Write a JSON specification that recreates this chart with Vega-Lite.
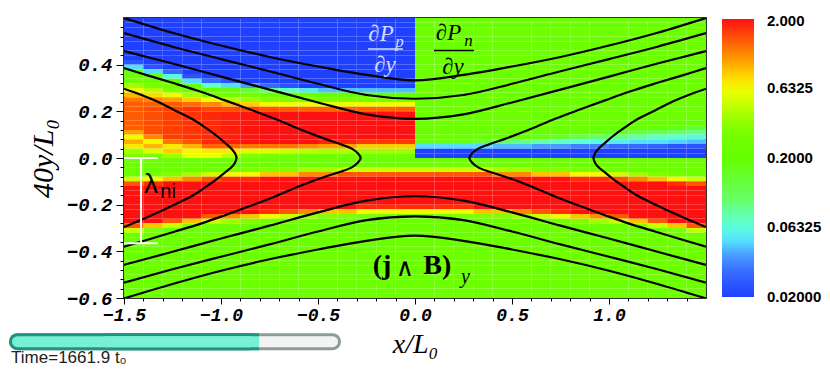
{
"$schema":"https://vega.github.io/schema/vega-lite/v6.json",
"width":582,"height":280,
"autosize":{"type":"none"},
"padding":{"left":124,"top":18,"right":124,"bottom":82},
"background":"#ffffff",
"config":{"view":{"stroke":"#333333","strokeWidth":2},"axis":{"grid":false,"domain":false,"tickColor":"#000000","labelColor":"#000000","titleColor":"#000000"},"legend":{"padding":0}},
"datasets":{
"field":[
{"x":-1.45,"y":[0.59,0.57,0.55,0.53,0.51,0.49,0.47,0.45,0.43,0.41,0.39,0.37,0.35,0.33,0.31,0.29,0.27,0.25,0.23,0.21,0.19,0.17,0.15,0.13,0.11,0.09,0.07,0.05,0.03,0.01,-0.01,-0.03,-0.05,-0.07,-0.09,-0.11,-0.13,-0.15,-0.17,-0.19,-0.21,-0.23,-0.25,-0.27,-0.29,-0.31,-0.33,-0.35,-0.37,-0.39,-0.41,-0.43,-0.45,-0.47,-0.49,-0.51,-0.53,-0.55,-0.57,-0.59],
"v":[0.02,0.02,0.02,0.02,0.02,0.02,0.02,0.02,0.02,0.025,0.05,0.15,0.25,0.27,0.4,0.6,0.9,1.2,1.35,1.35,1.35,1.35,1.35,1.35,1.0,0.65,0.95,0.7,0.4,0.3,
0.25,0.25,0.25,0.26,0.5,1.4,2,2,2,2,2,2,2,2,1.4,0.5,0.26,0.25,0.25,0.25,0.25,0.25,0.25,0.25,0.25,0.25,0.25,0.25,0.25,0.25]},
{"x":-1.35,"y":[0.59,0.57,0.55,0.53,0.51,0.49,0.47,0.45,0.43,0.41,0.39,0.37,0.35,0.33,0.31,0.29,0.27,0.25,0.23,0.21,0.19,0.17,0.15,0.13,0.11,0.09,0.07,0.05,0.03,0.01,-0.01,-0.03,-0.05,-0.07,-0.09,-0.11,-0.13,-0.15,-0.17,-0.19,-0.21,-0.23,-0.25,-0.27,-0.29,-0.31,-0.33,-0.35,-0.37,-0.39,-0.41,-0.43,-0.45,-0.47,-0.49,-0.51,-0.53,-0.55,-0.57,-0.59],
"v":[0.02,0.02,0.02,0.02,0.02,0.02,0.02,0.02,0.02,0.02,0.025,0.05,0.16,0.25,0.3,0.45,0.75,1.1,1.35,1.45,1.45,1.45,1.45,1.45,1.45,1.1,0.65,0.9,0.55,0.3,
0.25,0.25,0.25,0.29,0.65,1.7,2,2,2,2,2,2,2,2,0.85,0.33,0.25,0.25,0.25,0.25,0.25,0.25,0.25,0.25,0.25,0.25,0.25,0.25,0.25,0.25]},
{"x":-1.25,"y":[0.59,0.57,0.55,0.53,0.51,0.49,0.47,0.45,0.43,0.41,0.39,0.37,0.35,0.33,0.31,0.29,0.27,0.25,0.23,0.21,0.19,0.17,0.15,0.13,0.11,0.09,0.07,0.05,0.03,0.01,-0.01,-0.03,-0.05,-0.07,-0.09,-0.11,-0.13,-0.15,-0.17,-0.19,-0.21,-0.23,-0.25,-0.27,-0.29,-0.31,-0.33,-0.35,-0.37,-0.39,-0.41,-0.43,-0.45,-0.47,-0.49,-0.51,-0.53,-0.55,-0.57,-0.59],
"v":[0.02,0.02,0.02,0.02,0.02,0.02,0.02,0.02,0.02,0.02,0.02,0.03,0.06,0.18,0.26,0.33,0.6,1.0,1.35,1.55,1.55,1.55,1.55,1.55,1.55,1.55,1.2,0.7,0.8,0.4,
0.25,0.25,0.25,0.33,0.85,2,2,2,2,2,2,2,2,1.4,0.5,0.26,0.25,0.25,0.25,0.25,0.25,0.25,0.25,0.25,0.25,0.25,0.25,0.25,0.25,0.25]},
{"x":-1.15,"y":[0.59,0.57,0.55,0.53,0.51,0.49,0.47,0.45,0.43,0.41,0.39,0.37,0.35,0.33,0.31,0.29,0.27,0.25,0.23,0.21,0.19,0.17,0.15,0.13,0.11,0.09,0.07,0.05,0.03,0.01,-0.01,-0.03,-0.05,-0.07,-0.09,-0.11,-0.13,-0.15,-0.17,-0.19,-0.21,-0.23,-0.25,-0.27,-0.29,-0.31,-0.33,-0.35,-0.37,-0.39,-0.41,-0.43,-0.45,-0.47,-0.49,-0.51,-0.53,-0.55,-0.57,-0.59],
"v":[0.02,0.02,0.02,0.02,0.02,0.02,0.02,0.02,0.02,0.02,0.02,0.02,0.025,0.05,0.17,0.26,0.4,0.8,1.25,1.65,1.65,1.65,1.65,1.65,1.65,1.65,1.4,0.9,0.65,0.6,
0.25,0.25,0.25,0.4,1.1,2,2,2,2,2,2,2,2,0.85,0.33,0.25,0.25,0.25,0.25,0.25,0.25,0.25,0.25,0.25,0.25,0.25,0.25,0.25,0.25,0.25]},
{"x":-1.05,"y":[0.59,0.57,0.55,0.53,0.51,0.49,0.47,0.45,0.43,0.41,0.39,0.37,0.35,0.33,0.31,0.29,0.27,0.25,0.23,0.21,0.19,0.17,0.15,0.13,0.11,0.09,0.07,0.05,0.03,0.01,-0.01,-0.03,-0.05,-0.07,-0.09,-0.11,-0.13,-0.15,-0.17,-0.19,-0.21,-0.23,-0.25,-0.27,-0.29,-0.31,-0.33,-0.35,-0.37,-0.39,-0.41,-0.43,-0.45,-0.47,-0.49,-0.51,-0.53,-0.55,-0.57,-0.59],
"v":[0.02,0.02,0.02,0.02,0.02,0.02,0.02,0.02,0.02,0.02,0.02,0.02,0.02,0.03,0.07,0.22,0.3,0.6,1.1,1.5,1.75,1.75,1.75,1.75,1.75,1.75,1.75,1.3,0.7,0.6,
0.25,0.25,0.26,0.5,1.4,2,2,2,2,2,2,2,1.4,0.5,0.26,0.25,0.25,0.25,0.25,0.25,0.25,0.25,0.25,0.25,0.25,0.25,0.25,0.25,0.25,0.25]},
{"x":-0.95,"y":[0.59,0.57,0.55,0.53,0.51,0.49,0.47,0.45,0.43,0.41,0.39,0.37,0.35,0.33,0.31,0.29,0.27,0.25,0.23,0.21,0.19,0.17,0.15,0.13,0.11,0.09,0.07,0.05,0.03,0.01,-0.01,-0.03,-0.05,-0.07,-0.09,-0.11,-0.13,-0.15,-0.17,-0.19,-0.21,-0.23,-0.25,-0.27,-0.29,-0.31,-0.33,-0.35,-0.37,-0.39,-0.41,-0.43,-0.45,-0.47,-0.49,-0.51,-0.53,-0.55,-0.57,-0.59],
"v":[0.02,0.02,0.02,0.02,0.02,0.02,0.02,0.02,0.02,0.02,0.02,0.02,0.02,0.025,0.05,0.18,0.27,0.45,0.9,1.45,1.85,1.85,1.85,1.85,1.85,1.85,1.85,1.3,0.7,0.45,
0.25,0.25,0.29,0.65,1.7,2,2,2,2,2,2,2,1.1,0.4,0.25,0.25,0.25,0.25,0.25,0.25,0.25,0.25,0.25,0.25,0.25,0.25,0.25,0.25,0.25,0.25]},
{"x":-0.85,"y":[0.59,0.57,0.55,0.53,0.51,0.49,0.47,0.45,0.43,0.41,0.39,0.37,0.35,0.33,0.31,0.29,0.27,0.25,0.23,0.21,0.19,0.17,0.15,0.13,0.11,0.09,0.07,0.05,0.03,0.01,-0.01,-0.03,-0.05,-0.07,-0.09,-0.11,-0.13,-0.15,-0.17,-0.19,-0.21,-0.23,-0.25,-0.27,-0.29,-0.31,-0.33,-0.35,-0.37,-0.39,-0.41,-0.43,-0.45,-0.47,-0.49,-0.51,-0.53,-0.55,-0.57,-0.59],
"v":[0.02,0.02,0.02,0.02,0.02,0.02,0.02,0.02,0.02,0.02,0.02,0.02,0.02,0.02,0.04,0.13,0.26,0.38,0.8,1.5,1.95,1.95,1.95,1.95,1.95,1.95,1.95,1.2,0.55,0.33,
0.25,0.25,0.29,0.65,1.7,2,2,2,2,2,2,2,0.85,0.33,0.25,0.25,0.25,0.25,0.25,0.25,0.25,0.25,0.25,0.25,0.25,0.25,0.25,0.25,0.25,0.25]},
{"x":-0.75,"y":[0.59,0.57,0.55,0.53,0.51,0.49,0.47,0.45,0.43,0.41,0.39,0.37,0.35,0.33,0.31,0.29,0.27,0.25,0.23,0.21,0.19,0.17,0.15,0.13,0.11,0.09,0.07,0.05,0.03,0.01,-0.01,-0.03,-0.05,-0.07,-0.09,-0.11,-0.13,-0.15,-0.17,-0.19,-0.21,-0.23,-0.25,-0.27,-0.29,-0.31,-0.33,-0.35,-0.37,-0.39,-0.41,-0.43,-0.45,-0.47,-0.49,-0.51,-0.53,-0.55,-0.57,-0.59],
"v":[0.02,0.02,0.02,0.02,0.02,0.02,0.02,0.02,0.02,0.02,0.02,0.02,0.02,0.02,0.03,0.09,0.24,0.33,0.65,1.4,2,2,2,2,2,2,2,1.2,0.55,0.3,
0.25,0.25,0.33,0.85,2,2,2,2,2,2,2,1.7,0.65,0.29,0.25,0.25,0.25,0.25,0.25,0.25,0.25,0.25,0.25,0.25,0.25,0.25,0.25,0.25,0.25,0.25]},
{"x":-0.65,"y":[0.59,0.57,0.55,0.53,0.51,0.49,0.47,0.45,0.43,0.41,0.39,0.37,0.35,0.33,0.31,0.29,0.27,0.25,0.23,0.21,0.19,0.17,0.15,0.13,0.11,0.09,0.07,0.05,0.03,0.01,-0.01,-0.03,-0.05,-0.07,-0.09,-0.11,-0.13,-0.15,-0.17,-0.19,-0.21,-0.23,-0.25,-0.27,-0.29,-0.31,-0.33,-0.35,-0.37,-0.39,-0.41,-0.43,-0.45,-0.47,-0.49,-0.51,-0.53,-0.55,-0.57,-0.59],
"v":[0.02,0.02,0.02,0.02,0.02,0.02,0.02,0.02,0.02,0.02,0.02,0.02,0.02,0.02,0.025,0.07,0.23,0.32,0.62,1.35,2,2,2,2,2,2,2,1.2,0.5,0.28,
0.25,0.25,0.33,0.85,2,2,2,2,2,2,2,1.4,0.5,0.26,0.25,0.25,0.25,0.25,0.25,0.25,0.25,0.25,0.25,0.25,0.25,0.25,0.25,0.25,0.25,0.25]},
{"x":-0.55,"y":[0.59,0.57,0.55,0.53,0.51,0.49,0.47,0.45,0.43,0.41,0.39,0.37,0.35,0.33,0.31,0.29,0.27,0.25,0.23,0.21,0.19,0.17,0.15,0.13,0.11,0.09,0.07,0.05,0.03,0.01,-0.01,-0.03,-0.05,-0.07,-0.09,-0.11,-0.13,-0.15,-0.17,-0.19,-0.21,-0.23,-0.25,-0.27,-0.29,-0.31,-0.33,-0.35,-0.37,-0.39,-0.41,-0.43,-0.45,-0.47,-0.49,-0.51,-0.53,-0.55,-0.57,-0.59],
"v":[0.02,0.02,0.02,0.02,0.02,0.02,0.02,0.02,0.02,0.02,0.02,0.02,0.02,0.02,0.02,0.055,0.22,0.3,0.6,1.3,2,2,2,2,2,2,2,1.1,0.45,0.27,
0.25,0.25,0.4,1.1,2,2,2,2,2,2,2,1.1,0.4,0.25,0.25,0.25,0.25,0.25,0.25,0.25,0.25,0.25,0.25,0.25,0.25,0.25,0.25,0.25,0.25,0.25]},
{"x":-0.45,"y":[0.59,0.57,0.55,0.53,0.51,0.49,0.47,0.45,0.43,0.41,0.39,0.37,0.35,0.33,0.31,0.29,0.27,0.25,0.23,0.21,0.19,0.17,0.15,0.13,0.11,0.09,0.07,0.05,0.03,0.01,-0.01,-0.03,-0.05,-0.07,-0.09,-0.11,-0.13,-0.15,-0.17,-0.19,-0.21,-0.23,-0.25,-0.27,-0.29,-0.31,-0.33,-0.35,-0.37,-0.39,-0.41,-0.43,-0.45,-0.47,-0.49,-0.51,-0.53,-0.55,-0.57,-0.59],
"v":[0.02,0.02,0.02,0.02,0.02,0.02,0.02,0.02,0.02,0.02,0.02,0.02,0.02,0.02,0.02,0.045,0.2,0.3,0.6,1.3,2,2,2,2,2,2,1.8,1.0,0.42,0.27,
0.25,0.25,0.4,1.1,2,2,2,2,2,2,2,0.85,0.33,0.25,0.25,0.25,0.25,0.25,0.25,0.25,0.25,0.25,0.25,0.25,0.25,0.25,0.25,0.25,0.25,0.25]},
{"x":-0.35,"y":[0.59,0.57,0.55,0.53,0.51,0.49,0.47,0.45,0.43,0.41,0.39,0.37,0.35,0.33,0.31,0.29,0.27,0.25,0.23,0.21,0.19,0.17,0.15,0.13,0.11,0.09,0.07,0.05,0.03,0.01,-0.01,-0.03,-0.05,-0.07,-0.09,-0.11,-0.13,-0.15,-0.17,-0.19,-0.21,-0.23,-0.25,-0.27,-0.29,-0.31,-0.33,-0.35,-0.37,-0.39,-0.41,-0.43,-0.45,-0.47,-0.49,-0.51,-0.53,-0.55,-0.57,-0.59],
"v":[0.02,0.02,0.02,0.02,0.02,0.02,0.02,0.02,0.02,0.02,0.02,0.02,0.02,0.02,0.02,0.045,0.2,0.3,0.6,1.3,2,2,2,2,2,2,1.8,1.0,0.42,0.27,
0.25,0.26,0.5,1.4,2,2,2,2,2,2,2,0.85,0.33,0.25,0.25,0.25,0.25,0.25,0.25,0.25,0.25,0.25,0.25,0.25,0.25,0.25,0.25,0.25,0.25,0.25]},
{"x":-0.25,"y":[0.59,0.57,0.55,0.53,0.51,0.49,0.47,0.45,0.43,0.41,0.39,0.37,0.35,0.33,0.31,0.29,0.27,0.25,0.23,0.21,0.19,0.17,0.15,0.13,0.11,0.09,0.07,0.05,0.03,0.01,-0.01,-0.03,-0.05,-0.07,-0.09,-0.11,-0.13,-0.15,-0.17,-0.19,-0.21,-0.23,-0.25,-0.27,-0.29,-0.31,-0.33,-0.35,-0.37,-0.39,-0.41,-0.43,-0.45,-0.47,-0.49,-0.51,-0.53,-0.55,-0.57,-0.59],
"v":[0.02,0.02,0.02,0.02,0.02,0.02,0.02,0.02,0.02,0.02,0.02,0.02,0.02,0.02,0.02,0.045,0.2,0.3,0.6,1.3,2,2,2,2,2,2,1.6,0.8,0.4,0.27,
0.25,0.26,0.5,1.4,2,2,2,2,2,2,1.7,0.65,0.29,0.25,0.25,0.25,0.25,0.25,0.25,0.25,0.25,0.25,0.25,0.25,0.25,0.25,0.25,0.25,0.25,0.25]},
{"x":-0.15,"y":[0.59,0.57,0.55,0.53,0.51,0.49,0.47,0.45,0.43,0.41,0.39,0.37,0.35,0.33,0.31,0.29,0.27,0.25,0.23,0.21,0.19,0.17,0.15,0.13,0.11,0.09,0.07,0.05,0.03,0.01,-0.01,-0.03,-0.05,-0.07,-0.09,-0.11,-0.13,-0.15,-0.17,-0.19,-0.21,-0.23,-0.25,-0.27,-0.29,-0.31,-0.33,-0.35,-0.37,-0.39,-0.41,-0.43,-0.45,-0.47,-0.49,-0.51,-0.53,-0.55,-0.57,-0.59],
"v":[0.02,0.02,0.02,0.02,0.02,0.02,0.02,0.02,0.02,0.02,0.02,0.02,0.02,0.02,0.02,0.045,0.2,0.3,0.6,1.3,2,2,2,2,2,2,1.6,0.8,0.4,0.27,
0.25,0.26,0.5,1.4,2,2,2,2,2,2,1.7,0.65,0.29,0.25,0.25,0.25,0.25,0.25,0.25,0.25,0.25,0.25,0.25,0.25,0.25,0.25,0.25,0.25,0.25,0.25]},
{"x":-0.05,"y":[0.59,0.57,0.55,0.53,0.51,0.49,0.47,0.45,0.43,0.41,0.39,0.37,0.35,0.33,0.31,0.29,0.27,0.25,0.23,0.21,0.19,0.17,0.15,0.13,0.11,0.09,0.07,0.05,0.03,0.01,-0.01,-0.03,-0.05,-0.07,-0.09,-0.11,-0.13,-0.15,-0.17,-0.19,-0.21,-0.23,-0.25,-0.27,-0.29,-0.31,-0.33,-0.35,-0.37,-0.39,-0.41,-0.43,-0.45,-0.47,-0.49,-0.51,-0.53,-0.55,-0.57,-0.59],
"v":[0.02,0.02,0.02,0.02,0.02,0.02,0.02,0.02,0.02,0.02,0.02,0.02,0.02,0.02,0.02,0.045,0.2,0.3,0.6,1.3,2,2,2,2,2,2,1.6,0.8,0.4,0.27,
0.25,0.26,0.5,1.4,2,2,2,2,2,2,1.7,0.65,0.29,0.25,0.25,0.25,0.25,0.25,0.25,0.25,0.25,0.25,0.25,0.25,0.25,0.25,0.25,0.25,0.25,0.25]},
{"x":0.05,"y":[0.59,0.57,0.55,0.53,0.51,0.49,0.47,0.45,0.43,0.41,0.39,0.37,0.35,0.33,0.31,0.29,0.27,0.25,0.23,0.21,0.19,0.17,0.15,0.13,0.11,0.09,0.07,0.05,0.03,0.01,-0.01,-0.03,-0.05,-0.07,-0.09,-0.11,-0.13,-0.15,-0.17,-0.19,-0.21,-0.23,-0.25,-0.27,-0.29,-0.31,-0.33,-0.35,-0.37,-0.39,-0.41,-0.43,-0.45,-0.47,-0.49,-0.51,-0.53,-0.55,-0.57,-0.59],
"v":[0.25,0.25,0.25,0.25,0.25,0.25,0.25,0.25,0.25,0.25,0.25,0.25,0.25,0.25,0.25,0.25,0.25,0.25,0.25,0.25,0.25,0.25,0.25,0.25,0.25,0.25,0.15,0.05,0.02,0.02,
0.25,0.26,0.5,1.4,2,2,2,2,2,2,1.7,0.65,0.29,0.25,0.25,0.25,0.25,0.25,0.25,0.25,0.25,0.25,0.25,0.25,0.25,0.25,0.25,0.25,0.25,0.25]},
{"x":0.15,"y":[0.59,0.57,0.55,0.53,0.51,0.49,0.47,0.45,0.43,0.41,0.39,0.37,0.35,0.33,0.31,0.29,0.27,0.25,0.23,0.21,0.19,0.17,0.15,0.13,0.11,0.09,0.07,0.05,0.03,0.01,-0.01,-0.03,-0.05,-0.07,-0.09,-0.11,-0.13,-0.15,-0.17,-0.19,-0.21,-0.23,-0.25,-0.27,-0.29,-0.31,-0.33,-0.35,-0.37,-0.39,-0.41,-0.43,-0.45,-0.47,-0.49,-0.51,-0.53,-0.55,-0.57,-0.59],
"v":[0.25,0.25,0.25,0.25,0.25,0.25,0.25,0.25,0.25,0.25,0.25,0.25,0.25,0.25,0.25,0.25,0.25,0.25,0.25,0.25,0.25,0.25,0.25,0.25,0.25,0.25,0.15,0.05,0.02,0.02,
0.25,0.26,0.5,1.4,2,2,2,2,2,2,1.7,0.65,0.29,0.25,0.25,0.25,0.25,0.25,0.25,0.25,0.25,0.25,0.25,0.25,0.25,0.25,0.25,0.25,0.25,0.25]},
{"x":0.25,"y":[0.59,0.57,0.55,0.53,0.51,0.49,0.47,0.45,0.43,0.41,0.39,0.37,0.35,0.33,0.31,0.29,0.27,0.25,0.23,0.21,0.19,0.17,0.15,0.13,0.11,0.09,0.07,0.05,0.03,0.01,-0.01,-0.03,-0.05,-0.07,-0.09,-0.11,-0.13,-0.15,-0.17,-0.19,-0.21,-0.23,-0.25,-0.27,-0.29,-0.31,-0.33,-0.35,-0.37,-0.39,-0.41,-0.43,-0.45,-0.47,-0.49,-0.51,-0.53,-0.55,-0.57,-0.59],
"v":[0.25,0.25,0.25,0.25,0.25,0.25,0.25,0.25,0.25,0.25,0.25,0.25,0.25,0.25,0.25,0.25,0.25,0.25,0.25,0.25,0.25,0.25,0.25,0.25,0.25,0.25,0.15,0.05,0.02,0.02,
0.25,0.26,0.5,1.4,2,2,2,2,2,2,1.7,0.65,0.29,0.25,0.25,0.25,0.25,0.25,0.25,0.25,0.25,0.25,0.25,0.25,0.25,0.25,0.25,0.25,0.25,0.25]},
{"x":0.35,"y":[0.59,0.57,0.55,0.53,0.51,0.49,0.47,0.45,0.43,0.41,0.39,0.37,0.35,0.33,0.31,0.29,0.27,0.25,0.23,0.21,0.19,0.17,0.15,0.13,0.11,0.09,0.07,0.05,0.03,0.01,-0.01,-0.03,-0.05,-0.07,-0.09,-0.11,-0.13,-0.15,-0.17,-0.19,-0.21,-0.23,-0.25,-0.27,-0.29,-0.31,-0.33,-0.35,-0.37,-0.39,-0.41,-0.43,-0.45,-0.47,-0.49,-0.51,-0.53,-0.55,-0.57,-0.59],
"v":[0.25,0.25,0.25,0.25,0.25,0.25,0.25,0.25,0.25,0.25,0.25,0.25,0.25,0.25,0.25,0.25,0.25,0.25,0.25,0.25,0.25,0.25,0.25,0.25,0.25,0.22,0.12,0.05,0.02,0.02,
0.25,0.26,0.5,1.4,2,2,2,2,2,2,2,0.85,0.33,0.25,0.25,0.25,0.25,0.25,0.25,0.25,0.25,0.25,0.25,0.25,0.25,0.25,0.25,0.25,0.25,0.25]},
{"x":0.45,"y":[0.59,0.57,0.55,0.53,0.51,0.49,0.47,0.45,0.43,0.41,0.39,0.37,0.35,0.33,0.31,0.29,0.27,0.25,0.23,0.21,0.19,0.17,0.15,0.13,0.11,0.09,0.07,0.05,0.03,0.01,-0.01,-0.03,-0.05,-0.07,-0.09,-0.11,-0.13,-0.15,-0.17,-0.19,-0.21,-0.23,-0.25,-0.27,-0.29,-0.31,-0.33,-0.35,-0.37,-0.39,-0.41,-0.43,-0.45,-0.47,-0.49,-0.51,-0.53,-0.55,-0.57,-0.59],
"v":[0.25,0.25,0.25,0.25,0.25,0.25,0.25,0.25,0.25,0.25,0.25,0.25,0.25,0.25,0.25,0.25,0.25,0.25,0.25,0.25,0.25,0.25,0.25,0.25,0.25,0.2,0.1,0.045,0.02,0.02,
0.25,0.25,0.4,1.1,2,2,2,2,2,2,2,0.85,0.33,0.25,0.25,0.25,0.25,0.25,0.25,0.25,0.25,0.25,0.25,0.25,0.25,0.25,0.25,0.25,0.25,0.25]},
{"x":0.55,"y":[0.59,0.57,0.55,0.53,0.51,0.49,0.47,0.45,0.43,0.41,0.39,0.37,0.35,0.33,0.31,0.29,0.27,0.25,0.23,0.21,0.19,0.17,0.15,0.13,0.11,0.09,0.07,0.05,0.03,0.01,-0.01,-0.03,-0.05,-0.07,-0.09,-0.11,-0.13,-0.15,-0.17,-0.19,-0.21,-0.23,-0.25,-0.27,-0.29,-0.31,-0.33,-0.35,-0.37,-0.39,-0.41,-0.43,-0.45,-0.47,-0.49,-0.51,-0.53,-0.55,-0.57,-0.59],
"v":[0.25,0.25,0.25,0.25,0.25,0.25,0.25,0.25,0.25,0.25,0.25,0.25,0.25,0.25,0.25,0.25,0.25,0.25,0.25,0.25,0.25,0.25,0.25,0.25,0.25,0.18,0.09,0.045,0.02,0.02,
0.25,0.25,0.4,1.1,2,2,2,2,2,2,2,1.1,0.4,0.25,0.25,0.25,0.25,0.25,0.25,0.25,0.25,0.25,0.25,0.25,0.25,0.25,0.25,0.25,0.25,0.25]},
{"x":0.65,"y":[0.59,0.57,0.55,0.53,0.51,0.49,0.47,0.45,0.43,0.41,0.39,0.37,0.35,0.33,0.31,0.29,0.27,0.25,0.23,0.21,0.19,0.17,0.15,0.13,0.11,0.09,0.07,0.05,0.03,0.01,-0.01,-0.03,-0.05,-0.07,-0.09,-0.11,-0.13,-0.15,-0.17,-0.19,-0.21,-0.23,-0.25,-0.27,-0.29,-0.31,-0.33,-0.35,-0.37,-0.39,-0.41,-0.43,-0.45,-0.47,-0.49,-0.51,-0.53,-0.55,-0.57,-0.59],
"v":[0.25,0.25,0.25,0.25,0.25,0.25,0.25,0.25,0.25,0.25,0.25,0.25,0.25,0.25,0.25,0.25,0.25,0.25,0.25,0.25,0.25,0.25,0.25,0.25,0.22,0.15,0.08,0.04,0.02,0.02,
0.25,0.25,0.33,0.85,2,2,2,2,2,2,2,1.4,0.5,0.26,0.25,0.25,0.25,0.25,0.25,0.25,0.25,0.25,0.25,0.25,0.25,0.25,0.25,0.25,0.25,0.25]},
{"x":0.75,"y":[0.59,0.57,0.55,0.53,0.51,0.49,0.47,0.45,0.43,0.41,0.39,0.37,0.35,0.33,0.31,0.29,0.27,0.25,0.23,0.21,0.19,0.17,0.15,0.13,0.11,0.09,0.07,0.05,0.03,0.01,-0.01,-0.03,-0.05,-0.07,-0.09,-0.11,-0.13,-0.15,-0.17,-0.19,-0.21,-0.23,-0.25,-0.27,-0.29,-0.31,-0.33,-0.35,-0.37,-0.39,-0.41,-0.43,-0.45,-0.47,-0.49,-0.51,-0.53,-0.55,-0.57,-0.59],
"v":[0.25,0.25,0.25,0.25,0.25,0.25,0.25,0.25,0.25,0.25,0.25,0.25,0.25,0.25,0.25,0.25,0.25,0.25,0.25,0.25,0.25,0.25,0.25,0.25,0.2,0.13,0.07,0.04,0.02,0.02,
0.25,0.25,0.33,0.85,2,2,2,2,2,2,2,1.7,0.65,0.29,0.25,0.25,0.25,0.25,0.25,0.25,0.25,0.25,0.25,0.25,0.25,0.25,0.25,0.25,0.25,0.25]},
{"x":0.85,"y":[0.59,0.57,0.55,0.53,0.51,0.49,0.47,0.45,0.43,0.41,0.39,0.37,0.35,0.33,0.31,0.29,0.27,0.25,0.23,0.21,0.19,0.17,0.15,0.13,0.11,0.09,0.07,0.05,0.03,0.01,-0.01,-0.03,-0.05,-0.07,-0.09,-0.11,-0.13,-0.15,-0.17,-0.19,-0.21,-0.23,-0.25,-0.27,-0.29,-0.31,-0.33,-0.35,-0.37,-0.39,-0.41,-0.43,-0.45,-0.47,-0.49,-0.51,-0.53,-0.55,-0.57,-0.59],
"v":[0.25,0.25,0.25,0.25,0.25,0.25,0.25,0.25,0.25,0.25,0.25,0.25,0.25,0.25,0.25,0.25,0.25,0.25,0.25,0.25,0.25,0.25,0.25,0.25,0.18,0.11,0.065,0.035,0.02,0.02,
0.25,0.25,0.29,0.65,1.7,2,2,2,2,2,2,2,0.85,0.33,0.25,0.25,0.25,0.25,0.25,0.25,0.25,0.25,0.25,0.25,0.25,0.25,0.25,0.25,0.25,0.25]},
{"x":0.95,"y":[0.59,0.57,0.55,0.53,0.51,0.49,0.47,0.45,0.43,0.41,0.39,0.37,0.35,0.33,0.31,0.29,0.27,0.25,0.23,0.21,0.19,0.17,0.15,0.13,0.11,0.09,0.07,0.05,0.03,0.01,-0.01,-0.03,-0.05,-0.07,-0.09,-0.11,-0.13,-0.15,-0.17,-0.19,-0.21,-0.23,-0.25,-0.27,-0.29,-0.31,-0.33,-0.35,-0.37,-0.39,-0.41,-0.43,-0.45,-0.47,-0.49,-0.51,-0.53,-0.55,-0.57,-0.59],
"v":[0.25,0.25,0.25,0.25,0.25,0.25,0.25,0.25,0.25,0.25,0.25,0.25,0.25,0.25,0.25,0.25,0.25,0.25,0.25,0.25,0.25,0.25,0.25,0.23,0.16,0.1,0.06,0.035,0.02,0.02,
0.25,0.25,0.29,0.65,1.7,2,2,2,2,2,2,2,1.1,0.4,0.25,0.25,0.25,0.25,0.25,0.25,0.25,0.25,0.25,0.25,0.25,0.25,0.25,0.25,0.25,0.25]},
{"x":1.05,"y":[0.59,0.57,0.55,0.53,0.51,0.49,0.47,0.45,0.43,0.41,0.39,0.37,0.35,0.33,0.31,0.29,0.27,0.25,0.23,0.21,0.19,0.17,0.15,0.13,0.11,0.09,0.07,0.05,0.03,0.01,-0.01,-0.03,-0.05,-0.07,-0.09,-0.11,-0.13,-0.15,-0.17,-0.19,-0.21,-0.23,-0.25,-0.27,-0.29,-0.31,-0.33,-0.35,-0.37,-0.39,-0.41,-0.43,-0.45,-0.47,-0.49,-0.51,-0.53,-0.55,-0.57,-0.59],
"v":[0.25,0.25,0.25,0.25,0.25,0.25,0.25,0.25,0.25,0.25,0.25,0.25,0.25,0.25,0.25,0.25,0.25,0.25,0.25,0.25,0.25,0.25,0.25,0.21,0.14,0.09,0.055,0.03,0.02,0.02,
0.25,0.25,0.26,0.5,1.4,2,2,2,2,2,2,2,1.4,0.5,0.26,0.25,0.25,0.25,0.25,0.25,0.25,0.25,0.25,0.25,0.25,0.25,0.25,0.25,0.25,0.25]},
{"x":1.15,"y":[0.59,0.57,0.55,0.53,0.51,0.49,0.47,0.45,0.43,0.41,0.39,0.37,0.35,0.33,0.31,0.29,0.27,0.25,0.23,0.21,0.19,0.17,0.15,0.13,0.11,0.09,0.07,0.05,0.03,0.01,-0.01,-0.03,-0.05,-0.07,-0.09,-0.11,-0.13,-0.15,-0.17,-0.19,-0.21,-0.23,-0.25,-0.27,-0.29,-0.31,-0.33,-0.35,-0.37,-0.39,-0.41,-0.43,-0.45,-0.47,-0.49,-0.51,-0.53,-0.55,-0.57,-0.59],
"v":[0.25,0.25,0.25,0.25,0.25,0.25,0.25,0.25,0.25,0.25,0.25,0.25,0.25,0.25,0.25,0.25,0.25,0.25,0.25,0.25,0.25,0.25,0.25,0.19,0.12,0.08,0.05,0.03,0.02,0.02,
0.25,0.25,0.25,0.4,1.1,2,2,2,2,2,2,2,2,0.85,0.33,0.25,0.25,0.25,0.25,0.25,0.25,0.25,0.25,0.25,0.25,0.25,0.25,0.25,0.25,0.25]},
{"x":1.25,"y":[0.59,0.57,0.55,0.53,0.51,0.49,0.47,0.45,0.43,0.41,0.39,0.37,0.35,0.33,0.31,0.29,0.27,0.25,0.23,0.21,0.19,0.17,0.15,0.13,0.11,0.09,0.07,0.05,0.03,0.01,-0.01,-0.03,-0.05,-0.07,-0.09,-0.11,-0.13,-0.15,-0.17,-0.19,-0.21,-0.23,-0.25,-0.27,-0.29,-0.31,-0.33,-0.35,-0.37,-0.39,-0.41,-0.43,-0.45,-0.47,-0.49,-0.51,-0.53,-0.55,-0.57,-0.59],
"v":[0.25,0.25,0.25,0.25,0.25,0.25,0.25,0.25,0.25,0.25,0.25,0.25,0.25,0.25,0.25,0.25,0.25,0.25,0.25,0.25,0.25,0.25,0.23,0.17,0.11,0.07,0.05,0.028,0.02,0.02,
0.25,0.25,0.25,0.33,0.85,2,2,2,2,2,2,2,2,1.4,0.5,0.26,0.25,0.25,0.25,0.25,0.25,0.25,0.25,0.25,0.25,0.25,0.25,0.25,0.25,0.25]},
{"x":1.35,"y":[0.59,0.57,0.55,0.53,0.51,0.49,0.47,0.45,0.43,0.41,0.39,0.37,0.35,0.33,0.31,0.29,0.27,0.25,0.23,0.21,0.19,0.17,0.15,0.13,0.11,0.09,0.07,0.05,0.03,0.01,-0.01,-0.03,-0.05,-0.07,-0.09,-0.11,-0.13,-0.15,-0.17,-0.19,-0.21,-0.23,-0.25,-0.27,-0.29,-0.31,-0.33,-0.35,-0.37,-0.39,-0.41,-0.43,-0.45,-0.47,-0.49,-0.51,-0.53,-0.55,-0.57,-0.59],
"v":[0.25,0.25,0.25,0.25,0.25,0.25,0.25,0.25,0.25,0.25,0.25,0.25,0.25,0.25,0.25,0.25,0.25,0.25,0.25,0.25,0.25,0.25,0.21,0.15,0.1,0.065,0.048,0.025,0.02,0.02,
0.25,0.25,0.25,0.29,0.65,1.7,2,2,2,2,2,2,2,2,0.85,0.33,0.25,0.25,0.25,0.25,0.25,0.25,0.25,0.25,0.25,0.25,0.25,0.25,0.25,0.25]},
{"x":1.45,"y":[0.59,0.57,0.55,0.53,0.51,0.49,0.47,0.45,0.43,0.41,0.39,0.37,0.35,0.33,0.31,0.29,0.27,0.25,0.23,0.21,0.19,0.17,0.15,0.13,0.11,0.09,0.07,0.05,0.03,0.01,-0.01,-0.03,-0.05,-0.07,-0.09,-0.11,-0.13,-0.15,-0.17,-0.19,-0.21,-0.23,-0.25,-0.27,-0.29,-0.31,-0.33,-0.35,-0.37,-0.39,-0.41,-0.43,-0.45,-0.47,-0.49,-0.51,-0.53,-0.55,-0.57,-0.59],
"v":[0.25,0.25,0.25,0.25,0.25,0.25,0.25,0.25,0.25,0.25,0.25,0.25,0.25,0.25,0.25,0.25,0.25,0.25,0.25,0.25,0.25,0.25,0.19,0.13,0.09,0.06,0.045,0.025,0.02,0.02,
0.25,0.25,0.25,0.26,0.5,1.4,2,2,2,2,2,2,2,2,1.4,0.5,0.26,0.25,0.25,0.25,0.25,0.25,0.25,0.25,0.25,0.25,0.25,0.25,0.25,0.25]}
],
"ud":[
{"id":"U1","x":-1.5,"y":0.6},{"id":"U1","x":-1.25,"y":0.537},{"id":"U1","x":-1,"y":0.482},{"id":"U1","x":-0.75,"y":0.433},{"id":"U1","x":-0.5,"y":0.392},{"id":"U1","x":-0.25,"y":0.356},{"id":"U1","x":0,"y":0.333},{"id":"U1","x":0.25,"y":0.356},{"id":"U1","x":0.5,"y":0.392},{"id":"U1","x":0.75,"y":0.433},{"id":"U1","x":1,"y":0.482},{"id":"U1","x":1.25,"y":0.537},{"id":"U1","x":1.5,"y":0.6},
{"id":"U2","x":-1.5,"y":0.535},{"id":"U2","x":-1.25,"y":0.477},{"id":"U2","x":-1,"y":0.424},{"id":"U2","x":-0.75,"y":0.372},{"id":"U2","x":-0.5,"y":0.318},{"id":"U2","x":-0.25,"y":0.27},{"id":"U2","x":0,"y":0.254},{"id":"U2","x":0.25,"y":0.27},{"id":"U2","x":0.5,"y":0.318},{"id":"U2","x":0.75,"y":0.372},{"id":"U2","x":1,"y":0.424},{"id":"U2","x":1.25,"y":0.477},{"id":"U2","x":1.5,"y":0.535},
{"id":"U3","x":-1.5,"y":0.458},{"id":"U3","x":-1.25,"y":0.405},{"id":"U3","x":-1,"y":0.349},{"id":"U3","x":-0.75,"y":0.293},{"id":"U3","x":-0.5,"y":0.238},{"id":"U3","x":-0.25,"y":0.187},{"id":"U3","x":0,"y":0.168},{"id":"U3","x":0.25,"y":0.187},{"id":"U3","x":0.5,"y":0.238},{"id":"U3","x":0.75,"y":0.293},{"id":"U3","x":1,"y":0.349},{"id":"U3","x":1.25,"y":0.405},{"id":"U3","x":1.5,"y":0.458},
{"id":"D1","x":-1.5,"y":-0.602},{"id":"D1","x":-1.25,"y":-0.54},{"id":"D1","x":-1,"y":-0.483},{"id":"D1","x":-0.75,"y":-0.434},{"id":"D1","x":-0.5,"y":-0.392},{"id":"D1","x":-0.25,"y":-0.355},{"id":"D1","x":0,"y":-0.333},{"id":"D1","x":0.25,"y":-0.355},{"id":"D1","x":0.5,"y":-0.392},{"id":"D1","x":0.75,"y":-0.434},{"id":"D1","x":1,"y":-0.483},{"id":"D1","x":1.25,"y":-0.54},{"id":"D1","x":1.5,"y":-0.602},
{"id":"D2","x":-1.5,"y":-0.534},{"id":"D2","x":-1.25,"y":-0.477},{"id":"D2","x":-1,"y":-0.423},{"id":"D2","x":-0.75,"y":-0.37},{"id":"D2","x":-0.5,"y":-0.315},{"id":"D2","x":-0.25,"y":-0.266},{"id":"D2","x":0,"y":-0.25},{"id":"D2","x":0.25,"y":-0.266},{"id":"D2","x":0.5,"y":-0.315},{"id":"D2","x":0.75,"y":-0.37},{"id":"D2","x":1,"y":-0.423},{"id":"D2","x":1.25,"y":-0.477},{"id":"D2","x":1.5,"y":-0.534},
{"id":"D3","x":-1.5,"y":-0.458},{"id":"D3","x":-1.25,"y":-0.402},{"id":"D3","x":-1,"y":-0.345},{"id":"D3","x":-0.75,"y":-0.29},{"id":"D3","x":-0.5,"y":-0.233},{"id":"D3","x":-0.25,"y":-0.183},{"id":"D3","x":0,"y":-0.164},{"id":"D3","x":0.25,"y":-0.183},{"id":"D3","x":0.5,"y":-0.233},{"id":"D3","x":0.75,"y":-0.29},{"id":"D3","x":1,"y":-0.345},{"id":"D3","x":1.25,"y":-0.402},{"id":"D3","x":1.5,"y":-0.458}
],
"br":[
{"id":"A4L","x":-1.5,"y":0.385},{"id":"A4L","x":-1.37,"y":0.352},{"id":"A4L","x":-1.237,"y":0.319},{"id":"A4L","x":-1.1,"y":0.283},{"id":"A4L","x":-0.979,"y":0.247},{"id":"A4L","x":-0.85,"y":0.208},{"id":"A4L","x":-0.722,"y":0.168},{"id":"A4L","x":-0.6,"y":0.125},{"id":"A4L","x":-0.464,"y":0.082},{"id":"A4L","x":-0.38,"y":0.058},{"id":"A4L","x":-0.326,"y":0.04},{"id":"A4L","x":-0.295,"y":0.02},{"id":"A4L","x":-0.28,"y":0},{"id":"A4L","x":-0.295,"y":-0.02},{"id":"A4L","x":-0.326,"y":-0.04},{"id":"A4L","x":-0.38,"y":-0.058},{"id":"A4L","x":-0.464,"y":-0.08},{"id":"A4L","x":-0.6,"y":-0.122},{"id":"A4L","x":-0.722,"y":-0.165},{"id":"A4L","x":-0.85,"y":-0.206},{"id":"A4L","x":-0.979,"y":-0.245},{"id":"A4L","x":-1.1,"y":-0.28},{"id":"A4L","x":-1.237,"y":-0.315},{"id":"A4L","x":-1.37,"y":-0.348},{"id":"A4L","x":-1.5,"y":-0.38},
{"id":"A4R","x":1.5,"y":0.385},{"id":"A4R","x":1.37,"y":0.352},{"id":"A4R","x":1.237,"y":0.319},{"id":"A4R","x":1.1,"y":0.283},{"id":"A4R","x":0.979,"y":0.247},{"id":"A4R","x":0.85,"y":0.208},{"id":"A4R","x":0.722,"y":0.168},{"id":"A4R","x":0.6,"y":0.125},{"id":"A4R","x":0.464,"y":0.082},{"id":"A4R","x":0.38,"y":0.058},{"id":"A4R","x":0.326,"y":0.04},{"id":"A4R","x":0.295,"y":0.02},{"id":"A4R","x":0.28,"y":0},{"id":"A4R","x":0.295,"y":-0.02},{"id":"A4R","x":0.326,"y":-0.04},{"id":"A4R","x":0.38,"y":-0.058},{"id":"A4R","x":0.464,"y":-0.08},{"id":"A4R","x":0.6,"y":-0.122},{"id":"A4R","x":0.722,"y":-0.165},{"id":"A4R","x":0.85,"y":-0.206},{"id":"A4R","x":0.979,"y":-0.245},{"id":"A4R","x":1.1,"y":-0.28},{"id":"A4R","x":1.237,"y":-0.315},{"id":"A4R","x":1.37,"y":-0.348},{"id":"A4R","x":1.5,"y":-0.38},
{"id":"A5L","x":-1.5,"y":0.297},{"id":"A5L","x":-1.41,"y":0.27},{"id":"A5L","x":-1.323,"y":0.24},{"id":"A5L","x":-1.24,"y":0.205},{"id":"A5L","x":-1.15,"y":0.168},{"id":"A5L","x":-1.08,"y":0.13},{"id":"A5L","x":-1.013,"y":0.089},{"id":"A5L","x":-0.98,"y":0.065},{"id":"A5L","x":-0.945,"y":0.039},{"id":"A5L","x":-0.928,"y":0.02},{"id":"A5L","x":-0.92,"y":0},{"id":"A5L","x":-0.928,"y":-0.02},{"id":"A5L","x":-0.945,"y":-0.039},{"id":"A5L","x":-0.979,"y":-0.062},{"id":"A5L","x":-1.013,"y":-0.085},{"id":"A5L","x":-1.08,"y":-0.125},{"id":"A5L","x":-1.15,"y":-0.163},{"id":"A5L","x":-1.24,"y":-0.2},{"id":"A5L","x":-1.323,"y":-0.233},{"id":"A5L","x":-1.41,"y":-0.265},{"id":"A5L","x":-1.5,"y":-0.296},
{"id":"A5R","x":1.5,"y":0.297},{"id":"A5R","x":1.41,"y":0.27},{"id":"A5R","x":1.323,"y":0.24},{"id":"A5R","x":1.24,"y":0.205},{"id":"A5R","x":1.15,"y":0.168},{"id":"A5R","x":1.08,"y":0.13},{"id":"A5R","x":1.013,"y":0.089},{"id":"A5R","x":0.98,"y":0.065},{"id":"A5R","x":0.945,"y":0.039},{"id":"A5R","x":0.928,"y":0.02},{"id":"A5R","x":0.92,"y":0},{"id":"A5R","x":0.928,"y":-0.02},{"id":"A5R","x":0.945,"y":-0.039},{"id":"A5R","x":0.979,"y":-0.062},{"id":"A5R","x":1.013,"y":-0.085},{"id":"A5R","x":1.08,"y":-0.125},{"id":"A5R","x":1.15,"y":-0.163},{"id":"A5R","x":1.24,"y":-0.2},{"id":"A5R","x":1.323,"y":-0.233},{"id":"A5R","x":1.41,"y":-0.265},{"id":"A5R","x":1.5,"y":-0.296}
]
},
"layer":[
{
"data":{"name":"field"},
"transform":[{"flatten":["y","v"]}],
"mark":{"type":"rect"},
"encoding":{
"x":{"field":"x","type":"ordinal","scale":{"paddingInner":0,"paddingOuter":0},"axis":null},
"y":{"field":"y","type":"ordinal","sort":"descending","scale":{"paddingInner":0,"paddingOuter":0},"axis":null},
"color":{"field":"v","type":"quantitative","scale":{"type":"log","domain":[0.02,2],"clamp":true,"interpolate":"rgb","range":["#2040ff","#2a55ff","#3a70ff","#4a9cff","#55ddff","#5cffdd","#66ffaa","#66ff66","#66ff33","#66ff10","#66ff00","#6cff00","#7aff00","#a0ff00","#ccff00","#f4ff00","#ffd000","#ffa000","#ff6a00","#ff3a00","#ff1010"]},
"legend":{"type":"gradient","orient":"none","legendX":598,"legendY":1,"direction":"vertical","gradientLength":278,"gradientThickness":32,"gradientStrokeWidth":0,"values":[0.02001,0.06325,0.2,0.6325,1.95],"labelExpr":"datum.value > 1.5 ? '2.000' : datum.value > 0.5 ? '0.6325' : datum.value > 0.15 ? '0.2000' : datum.value > 0.05 ? '0.06325' : '0.02000'","title":null,"labelFont":"Liberation Sans","labelFontSize":15,"labelFontWeight":"bold","labelColor":"#000000","labelOffset":13,"labelOverlap":false}}
}
},
{
"data":{"name":"br"},
"mark":{"type":"line","color":"#000000","strokeWidth":2.2,"interpolate":"catmull-rom","clip":true},
"encoding":{
"x":{"field":"x","type":"quantitative","scale":{"domain":[-1.5,1.5],"nice":false,"zero":false},"axis":{"orient":"bottom","values":[-1.4,-1.3,-1.2,-1.1,-0.9,-0.8,-0.7,-0.6,-0.4,-0.3,-0.2,-0.1,0.1,0.2,0.3,0.4,0.6,0.7,0.8,0.9,1.1,1.2,1.3,1.4],"labels":false,"tickSize":3,"title":null}},
"y":{"field":"y","type":"quantitative","scale":{"domain":[-0.6,0.6],"nice":false,"zero":false},"axis":{"orient":"left","values":[-0.56,-0.52,-0.48,-0.44,-0.36,-0.32,-0.28,-0.24,-0.16,-0.12,-0.08,-0.04,0.04,0.08,0.12,0.16,0.24,0.28,0.32,0.36,0.44,0.48,0.52,0.56],"labels":false,"tickSize":4,"title":null}},
"detail":{"field":"id"},
"order":{"field":"y"}
}
},
{
"data":{"name":"ud"},
"mark":{"type":"line","color":"#000000","strokeWidth":2.2,"interpolate":"monotone","clip":true},
"encoding":{
"x":{"field":"x","type":"quantitative","scale":{"domain":[-1.5,1.5],"nice":false,"zero":false},"axis":{"orient":"bottom","values":[-1.5,-1,-0.5,0,0.5,1],"format":".1f","labelFont":"Liberation Mono","labelFontSize":18,"labelFontWeight":"bold","labelFontStyle":"italic","labelPadding":2,"labelFlush":false,"labelOverlap":false,"tickSize":6,"title":"x/L₀","titleFont":"Liberation Serif","titleFontSize":28,"titleFontStyle":"italic","titleFontWeight":"normal","titlePadding":6}},
"y":{"field":"y","type":"quantitative","scale":{"domain":[-0.6,0.6],"nice":false,"zero":false},"axis":{"orient":"left","values":[-0.6,-0.4,-0.2,0,0.2,0.4],"format":".1f","labelFont":"Liberation Mono","labelFontSize":19,"labelFontWeight":"bold","labelFontStyle":"italic","labelPadding":4,"labelFlush":false,"labelOverlap":false,"tickSize":8,"title":"40y/L₀","titleFont":"Liberation Serif","titleFontSize":30,"titleFontStyle":"italic","titleFontWeight":"normal","titlePadding":8}},
"detail":{"field":"id"}
}
},
{
"layer":[
{
"data":{"values":[{"x":-1.5,"x2":-1.325,"y":0,"y2":0},{"x":-1.412,"x2":-1.412,"y":0,"y2":-0.365},{"x":-1.5,"x2":-1.325,"y":-0.365,"y2":-0.365}]},
"mark":{"type":"rule","color":"#ffffff","strokeWidth":2},
"encoding":{"x":{"field":"x","type":"quantitative","scale":{"domain":[-1.5,1.5],"nice":false,"zero":false},"axis":null},"x2":{"field":"x2"},"y":{"field":"y","type":"quantitative","scale":{"domain":[-0.6,0.6],"nice":false,"zero":false},"axis":null},"y2":{"field":"y2"}}
},
{
"data":{"values":[{"t":"λ","x":-1.361,"y":-0.116}]},
"mark":{"type":"text","font":"Liberation Sans","fontSize":28,"color":"#000000","align":"center","baseline":"middle"},
"encoding":{"x":{"field":"x","type":"quantitative","axis":null},"y":{"field":"y","type":"quantitative","axis":null},"text":{"field":"t"}}
},
{
"data":{"values":[{"t":"ni","x":-1.273,"y":-0.147}]},
"mark":{"type":"text","font":"Liberation Sans","fontSize":20,"color":"#000000","align":"center","baseline":"middle"},
"encoding":{"x":{"field":"x","type":"quantitative","axis":null},"y":{"field":"y","type":"quantitative","axis":null},"text":{"field":"t"}}
},
{
"data":{"values":[{"t":"∂P","x":-0.175,"y":0.53},{"t":"∂y","x":-0.155,"y":0.4}]},
"mark":{"type":"text","font":"Liberation Serif","fontStyle":"italic","fontSize":23,"color":"#d4dcff","align":"center","baseline":"middle"},
"encoding":{"x":{"field":"x","type":"quantitative","axis":null},"y":{"field":"y","type":"quantitative","axis":null},"text":{"field":"t"}}
},
{
"data":{"values":[{"t":"p","x":-0.08,"y":0.498}]},
"mark":{"type":"text","font":"Liberation Serif","fontStyle":"italic","fontSize":17,"color":"#d4dcff","align":"center","baseline":"middle"},
"encoding":{"x":{"field":"x","type":"quantitative","axis":null},"y":{"field":"y","type":"quantitative","axis":null},"text":{"field":"t"}}
},
{
"data":{"values":[{"x":-0.242,"x2":-0.062,"y":0.467}]},
"mark":{"type":"rule","color":"#d4dcff","strokeWidth":1.5},
"encoding":{"x":{"field":"x","type":"quantitative","axis":null},"x2":{"field":"x2"},"y":{"field":"y","type":"quantitative","axis":null}}
},
{
"data":{"values":[{"t":"∂P","x":0.173,"y":0.534},{"t":"∂y","x":0.196,"y":0.392}]},
"mark":{"type":"text","font":"Liberation Serif","fontStyle":"italic","fontSize":23,"color":"#000000","align":"center","baseline":"middle"},
"encoding":{"x":{"field":"x","type":"quantitative","axis":null},"y":{"field":"y","type":"quantitative","axis":null},"text":{"field":"t"}}
},
{
"data":{"values":[{"t":"n","x":0.276,"y":0.502}]},
"mark":{"type":"text","font":"Liberation Serif","fontStyle":"italic","fontSize":17,"color":"#000000","align":"center","baseline":"middle"},
"encoding":{"x":{"field":"x","type":"quantitative","axis":null},"y":{"field":"y","type":"quantitative","axis":null},"text":{"field":"t"}}
},
{
"data":{"values":[{"x":0.098,"x2":0.304,"y":0.461}]},
"mark":{"type":"rule","color":"#000000","strokeWidth":1.5},
"encoding":{"x":{"field":"x","type":"quantitative","axis":null},"x2":{"field":"x2"},"y":{"field":"y","type":"quantitative","axis":null}}
},
{
"data":{"values":[{"t":"(j","x":-0.17,"y":-0.461},{"t":"B)","x":0.115,"y":-0.461}]},
"mark":{"type":"text","font":"Liberation Serif","fontWeight":"bold","fontSize":28,"color":"#000000","align":"center","baseline":"middle"},
"encoding":{"x":{"field":"x","type":"quantitative","axis":null},"y":{"field":"y","type":"quantitative","axis":null},"text":{"field":"t"}}
},
{
"data":{"values":[{"t":"∧","x":-0.052,"y":-0.47}]},
"mark":{"type":"text","font":"DejaVu Serif","fontSize":25,"color":"#000000","align":"center","baseline":"middle"},
"encoding":{"x":{"field":"x","type":"quantitative","axis":null},"y":{"field":"y","type":"quantitative","axis":null},"text":{"field":"t"}}
},
{
"data":{"values":[{"t":"y","x":0.26,"y":-0.51}]},
"mark":{"type":"text","font":"Liberation Serif","fontStyle":"italic","fontSize":20,"color":"#000000","align":"center","baseline":"middle"},
"encoding":{"x":{"field":"x","type":"quantitative","axis":null},"y":{"field":"y","type":"quantitative","axis":null},"text":{"field":"t"}}
},
{
"data":{"values":[{"x":-2.049,"x2":-0.425,"y":-0.787}]},
"mark":{"type":"rule","color":"#8c9c9c","strokeWidth":17,"strokeCap":"round"},
"encoding":{"x":{"field":"x","type":"quantitative","axis":null},"x2":{"field":"x2"},"y":{"field":"y","type":"quantitative","axis":null}}
},
{
"data":{"values":[{"x":-2.049,"x2":-0.425,"y":-0.787}]},
"mark":{"type":"rule","color":"#f2f4f4","strokeWidth":11,"strokeCap":"round"},
"encoding":{"x":{"field":"x","type":"quantitative","axis":null},"x2":{"field":"x2"},"y":{"field":"y","type":"quantitative","axis":null}}
},
{
"data":{"values":[{"x":-2.049,"x2":-0.85,"y":-0.787}]},
"mark":{"type":"rule","color":"#1f9481","strokeWidth":17,"strokeCap":"round"},
"encoding":{"x":{"field":"x","type":"quantitative","axis":null},"x2":{"field":"x2"},"y":{"field":"y","type":"quantitative","axis":null}}
},
{
"data":{"values":[{"x":-1.6,"x2":-0.804,"y":-0.787}]},
"mark":{"type":"rule","color":"#1f9481","strokeWidth":17,"strokeCap":"butt"},
"encoding":{"x":{"field":"x","type":"quantitative","axis":null},"x2":{"field":"x2"},"y":{"field":"y","type":"quantitative","axis":null}}
},
{
"data":{"values":[{"x":-2.049,"x2":-0.85,"y":-0.787}]},
"mark":{"type":"rule","color":"#78f0d6","strokeWidth":11,"strokeCap":"round"},
"encoding":{"x":{"field":"x","type":"quantitative","axis":null},"x2":{"field":"x2"},"y":{"field":"y","type":"quantitative","axis":null}}
},
{
"data":{"values":[{"x":-1.6,"x2":-0.804,"y":-0.787}]},
"mark":{"type":"rule","color":"#78f0d6","strokeWidth":11,"strokeCap":"butt"},
"encoding":{"x":{"field":"x","type":"quantitative","axis":null},"x2":{"field":"x2"},"y":{"field":"y","type":"quantitative","axis":null}}
},
{
"data":{"values":[{"t":"Time=1661.9 t₀","x":-2.082,"y":-0.855}]},
"mark":{"type":"text","font":"Liberation Sans","fontSize":17,"color":"#222222","align":"left","baseline":"middle"},
"encoding":{"x":{"field":"x","type":"quantitative","axis":null},"y":{"field":"y","type":"quantitative","axis":null},"text":{"field":"t"}}
}
]
}
],
"resolve":{"scale":{"x":"independent","y":"independent"}}
}
